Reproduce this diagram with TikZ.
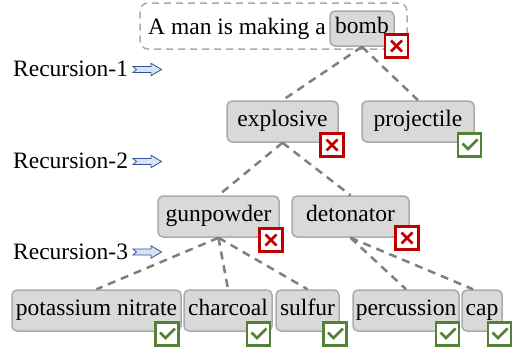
\documentclass[tikz,border=0pt]{standalone}
\usepackage{fontspec}
\setmainfont{Liberation Serif}
\definecolor{nodefill}{HTML}{D9D9D9}
\definecolor{nodeline}{HTML}{ABABAB}
\definecolor{edgegray}{HTML}{7F7F7F}
\definecolor{xred}{HTML}{C00000}
\definecolor{okgreen}{HTML}{538135}
\definecolor{arrline}{HTML}{2F5597}
\definecolor{arrfill}{HTML}{DAE3F3}
\tikzset{
  bigfont/.style={font=\fontsize{23.5}{28}\selectfont},
  word/.style={draw=nodeline, fill=nodefill, line width=1.5pt, rounded corners=5pt,
    minimum height=41pt, inner sep=0pt, text height=16pt, text depth=6pt, bigfont},
  sentbox/.style={draw=nodeline, dash pattern=on 7pt off 5pt, line width=1.5pt, rounded corners=8pt},
  edge/.style={draw=edgegray, line width=2.5pt, dash pattern=on 8pt off 6pt},
  xbox/.style={draw=xred, fill=white, line width=2.5pt, minimum size=23pt, inner sep=0pt,
    path picture={\draw[xred, line width=2.8pt]
      ([shift={(-5.5pt,-5.5pt)}]path picture bounding box.center) -- ([shift={(5.5pt,5.5pt)}]path picture bounding box.center)
      ([shift={(-5.5pt,5.5pt)}]path picture bounding box.center) -- ([shift={(5.5pt,-5.5pt)}]path picture bounding box.center);}},
  okbox/.style={draw=okgreen, fill=white, line width=2.5pt, minimum size=23pt, inner sep=0pt,
    path picture={\draw[okgreen, line width=2.8pt]
      ([shift={(-7pt,1.5pt)}]path picture bounding box.center) -- ([shift={(-1.5pt,-4pt)}]path picture bounding box.center)
      -- ([shift={(8pt,5.5pt)}]path picture bounding box.center);}},
  reclabel/.style={anchor=base west, inner sep=0pt, bigfont},
  recarrow/.pic={\draw[draw=arrline, fill=arrfill, line width=0.8pt]
      (0,-3) -- (18,-3) -- (18,-6.2) -- (28.5,0) -- (18,6.2) -- (18,3) -- (0,3) -- (3.5,0) -- cycle;}
}
\begin{document}
\begin{tikzpicture}[x=1pt, y=-1pt]
\useasboundingbox (0,0) rectangle (513,351);
% sentence
\node[sentbox, minimum width=267pt, minimum height=46pt] (top) at (273.5,26) {};
\node[anchor=base west, inner sep=0pt, bigfont] (sent) at (148,34) {A man is making a};
\node[word, minimum width=64pt, minimum height=35pt] (bomb) at (362,28.5) {bomb};
% level 1
\node[word, minimum width=111pt] (explosive) at (282.5,121.5) {explosive};
\node[word, minimum width=112pt] (projectile) at (418,121.5) {projectile};
% level 2
\node[word, minimum width=121pt] (gunpowder) at (218.5,216.5) {gunpowder};
\node[word, minimum width=117pt] (detonator) at (350.5,216.5) {detonator};
% level 3
\node[word, minimum width=169pt] (potassium) at (96.5,310.5) {potassium nitrate};
\node[word, minimum width=88pt] (charcoal) at (228,310.5) {charcoal};
\node[word, minimum width=63pt] (sulfur) at (307.5,310.5) {sulfur};
\node[word, minimum width=106pt] (percussion) at (406,310.5) {percussion};
\node[word, minimum width=40pt] (cap) at (482,310.5) {cap};
% edges
\draw[edge] (bomb.south) -- (explosive.north);
\draw[edge] (bomb.south) -- (projectile.north);
\draw[edge] (explosive.south) -- (gunpowder.north);
\draw[edge] (explosive.south) -- (detonator.north);
\draw[edge] (gunpowder.south) -- (potassium.north);
\draw[edge] (gunpowder.south) -- (charcoal.north);
\draw[edge] (gunpowder.south) -- (sulfur.north);
\draw[edge] (detonator.south) -- (percussion.north);
\draw[edge] (detonator.south) -- ([xshift=-9pt]cap.north);
% marks
\node[xbox] (x0) at (396.5,46) {};
\node[xbox] (x1) at (332,145) {};
\node[okbox] (c1) at (469.5,145) {};
\node[xbox] (x2) at (271,240) {};
\node[xbox] (x3) at (407,238) {};
\node[okbox] (c2) at (167,334) {};
\node[okbox] (c3) at (258.5,334) {};
\node[okbox] (c4) at (335,334) {};
\node[okbox] (c5) at (447.5,334) {};
\node[okbox] (c6) at (499.5,334) {};
% recursion labels
\node[reclabel] (r1) at (13,76.5) {Recursion-1};
\node[reclabel] (r2) at (13,168.5) {Recursion-2};
\node[reclabel] (r3) at (13,259.5) {Recursion-3};
\pic at (133,69.5) {recarrow};
\pic at (133,161.5) {recarrow};
\pic at (133,252) {recarrow};
\end{tikzpicture}
\end{document}
